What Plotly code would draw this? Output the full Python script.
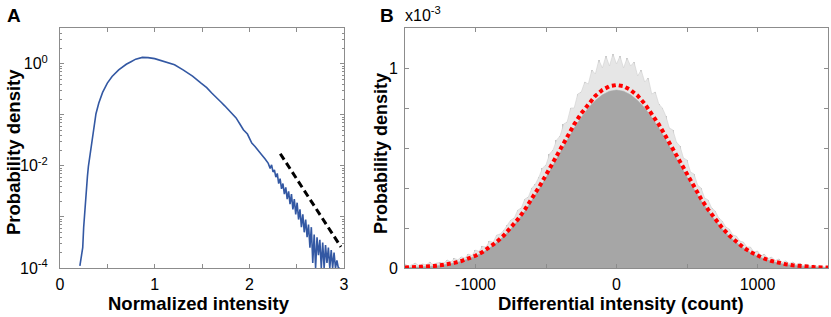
import plotly.graph_objects as go

# ---------------- Panel A: normalized intensity PDF (log scale) ----------------
norm_intensity = [0.21, 0.225, 0.24, 0.25, 0.256, 0.265, 0.277, 0.29, 0.30, 0.32,
                  0.34, 0.355, 0.38, 0.41, 0.45, 0.50, 0.55, 0.62, 0.70, 0.75,
                  0.80, 0.87, 0.93, 1.00, 1.10, 1.21, 1.30, 1.40, 1.49, 1.55,
                  1.60, 1.65, 1.70, 1.74, 1.78, 1.82, 1.86, 1.90, 1.937, 1.98,
                  2.026, 2.06, 2.10, 2.13, 2.165, 2.20, 2.22, 2.235, 2.25, 2.265,
                  2.28, 2.295, 2.31, 2.325, 2.34, 2.355, 2.37, 2.385, 2.40, 2.415,
                  2.43, 2.445, 2.46, 2.475, 2.49, 2.505, 2.52, 2.535, 2.55, 2.565,
                  2.58, 2.595, 2.61, 2.625, 2.64, 2.655, 2.67, 2.685, 2.70, 2.715,
                  2.73, 2.745, 2.76, 2.775, 2.79, 2.805, 2.82, 2.835, 2.85, 2.865,
                  2.88, 2.895, 2.91, 2.925, 2.94, 2.955]
norm_pdf = [1.1e-4, 1.8e-4, 2.5e-4, 6.3e-4, 9.5e-4, 1.8e-3, 3.4e-3, 6.3e-3, 9.8e-3, 1.8e-2,
            3.5e-2, 5.9e-2, 0.105, 0.17, 0.275, 0.417, 0.562, 0.759, 0.977, 1.096,
            1.23, 1.33, 1.32, 1.26, 1.12, 0.955, 0.759, 0.575, 0.417, 0.34,
            0.27, 0.215, 0.178, 0.15, 0.126, 0.104, 0.087, 0.066, 0.051, 0.042,
            0.028, 0.024, 0.019, 0.0166, 0.0138, 0.0112, 0.0089, 0.0105, 0.0076, 0.0083,
            0.0060, 0.0071, 0.0045, 0.0056, 0.00355, 0.0045, 0.0028, 0.0038, 0.00224, 0.00316,
            0.00178, 0.0028, 0.00141, 0.00224, 0.00112, 0.0019, 8.9e-4, 1.41e-3, 6.3e-4, 1.12e-3,
            5.0e-4, 8.9e-4, 4.0e-4, 7.1e-4, 2.5e-4, 6.3e-4, 1.26e-4, 4.5e-4, 1.0e-4, 4.0e-4,
            1.78e-4, 3.55e-4, 1.0e-4, 3.16e-4, 1.0e-4, 2.8e-4, 1.26e-4, 2.5e-4, 1.0e-4, 2.24e-4,
            1.0e-4, 2.0e-4, 1.0e-4, 1.41e-4, 1.0e-4, 1.0e-4]
guide_x = [2.327, 2.967]
guide_pdf = [0.0173, 2.6e-4]

# ---------------- Panel B: differential intensity histogram (x10^-3) ----------------
bin_x_coarse = [-1500, -1450, -1400, -1350, -1300, -1250, -1200, -1150, -1100, -1050,
                -1000, -950, -900, -850, -800, -750, -700, -650, -600, -550,
                -500, -450, -400, -350, -300, -250, -200, -150, -100, -50,
                0, 50, 100, 150, 200, 250, 300, 350, 400, 450,
                500, 550, 600, 650, 700, 750, 800, 850, 900, 950,
                1000, 1050, 1100, 1150, 1200, 1250, 1300, 1350, 1400, 1450, 1500]
hist_body = [0.002, 0.003, 0.0045, 0.0065, 0.009, 0.013, 0.018, 0.025, 0.034, 0.045,
             0.059, 0.078, 0.100, 0.127, 0.158, 0.195, 0.237, 0.285, 0.337, 0.394,
             0.453, 0.515, 0.578, 0.640, 0.700, 0.753, 0.800, 0.838, 0.866, 0.884,
             0.890, 0.884, 0.866, 0.838, 0.800, 0.753, 0.700, 0.640, 0.578, 0.515,
             0.453, 0.394, 0.337, 0.285, 0.237, 0.195, 0.158, 0.127, 0.100, 0.078,
             0.059, 0.045, 0.034, 0.025, 0.018, 0.013, 0.009, 0.0065, 0.0045, 0.003, 0.002]
gauss_fit = [0.0021, 0.0031, 0.0046, 0.0066, 0.0095, 0.0134, 0.0186, 0.0256, 0.0347, 0.0464,
             0.0612, 0.080, 0.1025, 0.130, 0.162, 0.200, 0.243, 0.292, 0.346, 0.404,
             0.465, 0.529, 0.594, 0.657, 0.718, 0.773, 0.821, 0.861, 0.890, 0.909,
             0.915, 0.909, 0.890, 0.861, 0.821, 0.773, 0.718, 0.657, 0.594, 0.529,
             0.465, 0.404, 0.346, 0.292, 0.243, 0.200, 0.162, 0.130, 0.1025, 0.080,
             0.0612, 0.0464, 0.0347, 0.0256, 0.0186, 0.0134, 0.0095, 0.0066, 0.0046, 0.0031, 0.0021]
bin_x_fine = [-1500, -1475, -1450, -1425, -1400, -1375, -1350, -1325, -1300, -1275,
              -1250, -1225, -1200, -1175, -1150, -1125, -1100, -1075, -1050, -1025,
              -1000, -975, -950, -925, -900, -875, -850, -825, -800, -775,
              -750, -725, -700, -675, -650, -625, -600, -575, -550, -525,
              -500, -475, -450, -425, -400, -375, -350, -325, -300, -275,
              -250, -225, -200, -175, -150, -125, -100, -75, -50, -25,
              0, 25, 50, 75, 100, 125, 150, 175, 200, 225,
              250, 275, 300, 325, 350, 375, 400, 425, 450, 475,
              500, 525, 550, 575, 600, 625, 650, 675, 700, 725,
              750, 775, 800, 825, 850, 875, 900, 925, 950, 975,
              1000, 1025, 1050, 1075, 1100, 1125, 1150, 1175, 1200, 1225,
              1250, 1275, 1300, 1325, 1350, 1375, 1400, 1425, 1450, 1475, 1500]
hist_spikes = [0.020, 0.008, 0.017, 0.024, 0.011, 0.021, 0.015, 0.029, 0.017, 0.025,
               0.028, 0.024, 0.040, 0.030, 0.048, 0.041, 0.056, 0.050, 0.070, 0.062,
               0.090, 0.083, 0.108, 0.105, 0.135, 0.128, 0.165, 0.170, 0.188, 0.215,
               0.240, 0.250, 0.290, 0.300, 0.345, 0.355, 0.400, 0.420, 0.455, 0.500,
               0.515, 0.570, 0.590, 0.640, 0.660, 0.720, 0.730, 0.800, 0.800, 0.870,
               0.880, 0.930, 0.920, 0.990, 0.970, 1.040, 1.000, 1.060, 1.010, 1.070,
               1.020, 1.060, 1.000, 1.050, 1.010, 1.030, 0.960, 0.990, 0.930, 0.950,
               0.870, 0.880, 0.820, 0.800, 0.760, 0.700, 0.690, 0.630, 0.610, 0.550,
               0.540, 0.480, 0.470, 0.415, 0.400, 0.350, 0.340, 0.300, 0.285, 0.250,
               0.235, 0.205, 0.195, 0.165, 0.160, 0.135, 0.130, 0.105, 0.105, 0.080,
               0.085, 0.062, 0.068, 0.048, 0.055, 0.037, 0.045, 0.028, 0.036, 0.022,
               0.030, 0.017, 0.024, 0.012, 0.019, 0.010, 0.015, 0.008, 0.012, 0.005, 0.008]

FONT = "Liberation Sans, Arial, Helvetica, sans-serif"
FRAME = "#8c8c8c"

fig = go.Figure()

# Panel A traces
fig.add_trace(go.Scatter(x=norm_intensity, y=norm_pdf, mode="lines",
                         line=dict(color="#3358a3", width=1.6),
                         xaxis="x", yaxis="y", showlegend=False))
fig.add_trace(go.Scatter(x=guide_x, y=guide_pdf, mode="lines",
                         line=dict(color="black", width=3, dash="7px,4px"),
                         xaxis="x", yaxis="y", showlegend=False))

# Panel B traces
fig.add_trace(go.Scatter(x=bin_x_fine, y=hist_spikes, mode="lines", fill="tozeroy",
                         fillcolor="#e6e6e6", line=dict(color="#d0d0d0", width=0.6),
                         xaxis="x2", yaxis="y2", showlegend=False))
fig.add_trace(go.Bar(x=bin_x_fine, y=hist_spikes, width=9, marker=dict(color="#b4b4b4", line=dict(width=0)),
                     opacity=0.8, xaxis="x2", yaxis="y2", showlegend=False))
fig.add_trace(go.Scatter(x=bin_x_coarse, y=hist_body, mode="lines", fill="tozeroy",
                         fillcolor="#a6a6a6", line=dict(color="#a6a6a6", width=0.5),
                         xaxis="x2", yaxis="y2", showlegend=False))
fig.add_trace(go.Scatter(x=bin_x_coarse, y=gauss_fit, mode="lines",
                         line=dict(color="#ff0000", width=4, dash="4px,3px"),
                         xaxis="x2", yaxis="y2", showlegend=False))

axis_common = dict(showline=True, mirror="ticks", linecolor=FRAME, linewidth=1,
                   ticks="inside", tickcolor=FRAME, ticklen=4, showgrid=False,
                   zeroline=False, tickfont=dict(family=FONT, size=16, color="black"))

yA = 1 - 268 / 317
yB = 1 - 28 / 317

fig.update_layout(
    width=831, height=317, margin=dict(l=0, r=0, t=0, b=0, autoexpand=False),
    paper_bgcolor="white", plot_bgcolor="white", bargap=0,
    xaxis=dict(domain=[60 / 831, 344 / 831], anchor="y", range=[0, 3],
               tickmode="array", tickvals=[0, 0.5, 1, 1.5, 2, 2.5, 3],
               ticktext=["0", "", "1", "", "2", "", "3"], ticklabelstandoff=2,
               **axis_common),
    yaxis=dict(domain=[yA, yB], anchor="x", type="log", range=[-4, 0.7],
               tickmode="array", tickvals=[1e-4, 1e-3, 1e-2, 1e-1, 1],
               ticktext=["10<sup>-4</sup>", "", "10<sup>-2</sup>", "", "10<sup>0</sup>"],
               minor=dict(ticks="inside", ticklen=2, tickcolor=FRAME, dtick="D1"),
               ticklabelstandoff=8, **axis_common),
    xaxis2=dict(domain=[405 / 831, 828 / 831], anchor="y2", range=[-1500, 1500],
                tickmode="array", tickvals=[-1500, -1000, -500, 0, 500, 1000, 1500],
                ticktext=["", "-1000", "", "0", "", "1000", ""], ticklabelstandoff=2,
                **axis_common),
    yaxis2=dict(domain=[yA, yB], anchor="x2", range=[0, 1.2],
                tickmode="array", tickvals=[0, 0.2, 0.4, 0.6, 0.8, 1.0, 1.2],
                ticktext=["0", "", "", "", "", "1", ""], ticklabelstandoff=3,
                **axis_common),
)

ann = []
ann.append(dict(text="<b>A</b>", x=14, y=15, font=dict(size=19)))
ann.append(dict(text="<b>B</b>", x=387, y=15, font=dict(size=19)))
ann.append(dict(text="x10<sup>-3</sup>", x=423, y=14, font=dict(size=16)))
ann.append(dict(text="<b>Normalized intensity</b>", x=199, y=303, font=dict(size=18.5)))
ann.append(dict(text="<b>Differential intensity (count)</b>", x=621, y=303, font=dict(size=18.5)))
ann.append(dict(text="<b>Probability density</b>", x=13, y=152, font=dict(size=18.5), textangle=-90))
ann.append(dict(text="<b>Probability density</b>", x=381, y=154, font=dict(size=18), textangle=-90))
for a in ann:
    a.update(xref="paper", yref="paper", showarrow=False,
             xanchor="center", yanchor="middle")
    a["x"] = a["x"] / 831
    a["y"] = 1 - a["y"] / 317
    a["font"].update(family=FONT, color="black")
fig.update_layout(annotations=ann)

fig.write_html("out.html", config={"displayModeBar": False},
               post_script="document.body.style.margin='0';")
